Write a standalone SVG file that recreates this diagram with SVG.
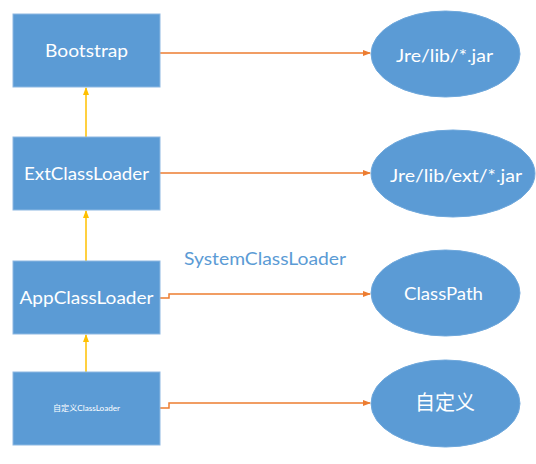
<svg xmlns="http://www.w3.org/2000/svg" width="536" height="464" viewBox="0 0 536 464">
<defs>
<marker id="ao" markerWidth="8" markerHeight="6" refX="7" refY="3" orient="auto" markerUnits="userSpaceOnUse">
<path d="M0,0 L8,3 L0,6 Z" fill="#ED7D31"/>
</marker>
<marker id="ay" markerWidth="8" markerHeight="6" refX="7" refY="3" orient="auto" markerUnits="userSpaceOnUse">
<path d="M0,0 L8,3 L0,6 Z" fill="#FFC000"/>
</marker>
</defs>
<style>
.box{fill:#5B9BD5;stroke:#8DB8E2;stroke-width:1}
.ell{fill:#5B9BD5;stroke:#6FA8DC;stroke-width:1}
.t{fill:#FFFFFF;font-family:Lato,"Open Sans","Noto Sans CJK SC",sans-serif;font-size:18px;text-anchor:middle}
.o{fill:none;stroke:#ED7D31;stroke-width:1.5;marker-end:url(#ao)}
.y{fill:none;stroke:#FFC000;stroke-width:1.5;marker-end:url(#ay)}
</style>
<rect width="536" height="464" fill="#FFFFFF"/>
<g id="connectors">
<path class="o" d="M160,53 L370,53"/>
<path class="o" d="M160,173 L370,173"/>
<path class="o" d="M160,298 L169,298 L169,294 L370,294"/>
<path class="o" d="M160,408 L169,408 L169,403 L370,403"/>
<path class="y" d="M86,137 L86,88"/>
<path class="y" d="M86,261 L86,211"/>
<path class="y" d="M86,372 L86,335"/>
</g>
<g id="bootstrap">
<rect class="box" x="13" y="14" width="147" height="73"/>
<text class="t" x="86.5" y="57" textLength="83" lengthAdjust="spacingAndGlyphs">Bootstrap</text>
</g>
<g id="extclassloader">
<rect class="box" x="13" y="137" width="147" height="73"/>
<text class="t" x="86.5" y="180" textLength="125" lengthAdjust="spacingAndGlyphs">ExtClassLoader</text>
</g>
<g id="appclassloader">
<rect class="box" x="13" y="261" width="147" height="73"/>
<text class="t" x="86.5" y="304" textLength="134" lengthAdjust="spacingAndGlyphs">AppClassLoader</text>
</g>
<g id="customclassloader">
<rect class="box" x="13" y="372" width="147" height="73"/>
<text class="t" x="86.5" y="411" style="font-size:8px" textLength="67" lengthAdjust="spacingAndGlyphs">自定义ClassLoader</text>
</g>
<g id="systemclassloader-label">
<text x="184" y="265" style="fill:#5B9BD5;font-family:Lato,'Open Sans',sans-serif;font-size:17px" textLength="162" lengthAdjust="spacingAndGlyphs">SystemClassLoader</text>
</g>
<g id="jre-lib">
<ellipse class="ell" cx="445.5" cy="54" rx="74.5" ry="43"/>
<text class="t" x="444.5" y="62" textLength="97" lengthAdjust="spacingAndGlyphs">Jre/lib/*.jar</text>
</g>
<g id="jre-lib-ext">
<ellipse class="ell" cx="453" cy="173.5" rx="82" ry="43.5"/>
<text class="t" x="456" y="182" textLength="132" lengthAdjust="spacingAndGlyphs">Jre/lib/ext/*.jar</text>
</g>
<g id="classpath">
<ellipse class="ell" cx="445.5" cy="293" rx="74.5" ry="43"/>
<text class="t" x="443.5" y="300" textLength="79" lengthAdjust="spacingAndGlyphs">ClassPath</text>
</g>
<g id="custom">
<ellipse class="ell" cx="445.5" cy="403.5" rx="74.5" ry="43.5"/>
<text class="t" x="445" y="410" style="font-size:20px" textLength="60" lengthAdjust="spacingAndGlyphs">自定义</text>
</g>
</svg>
